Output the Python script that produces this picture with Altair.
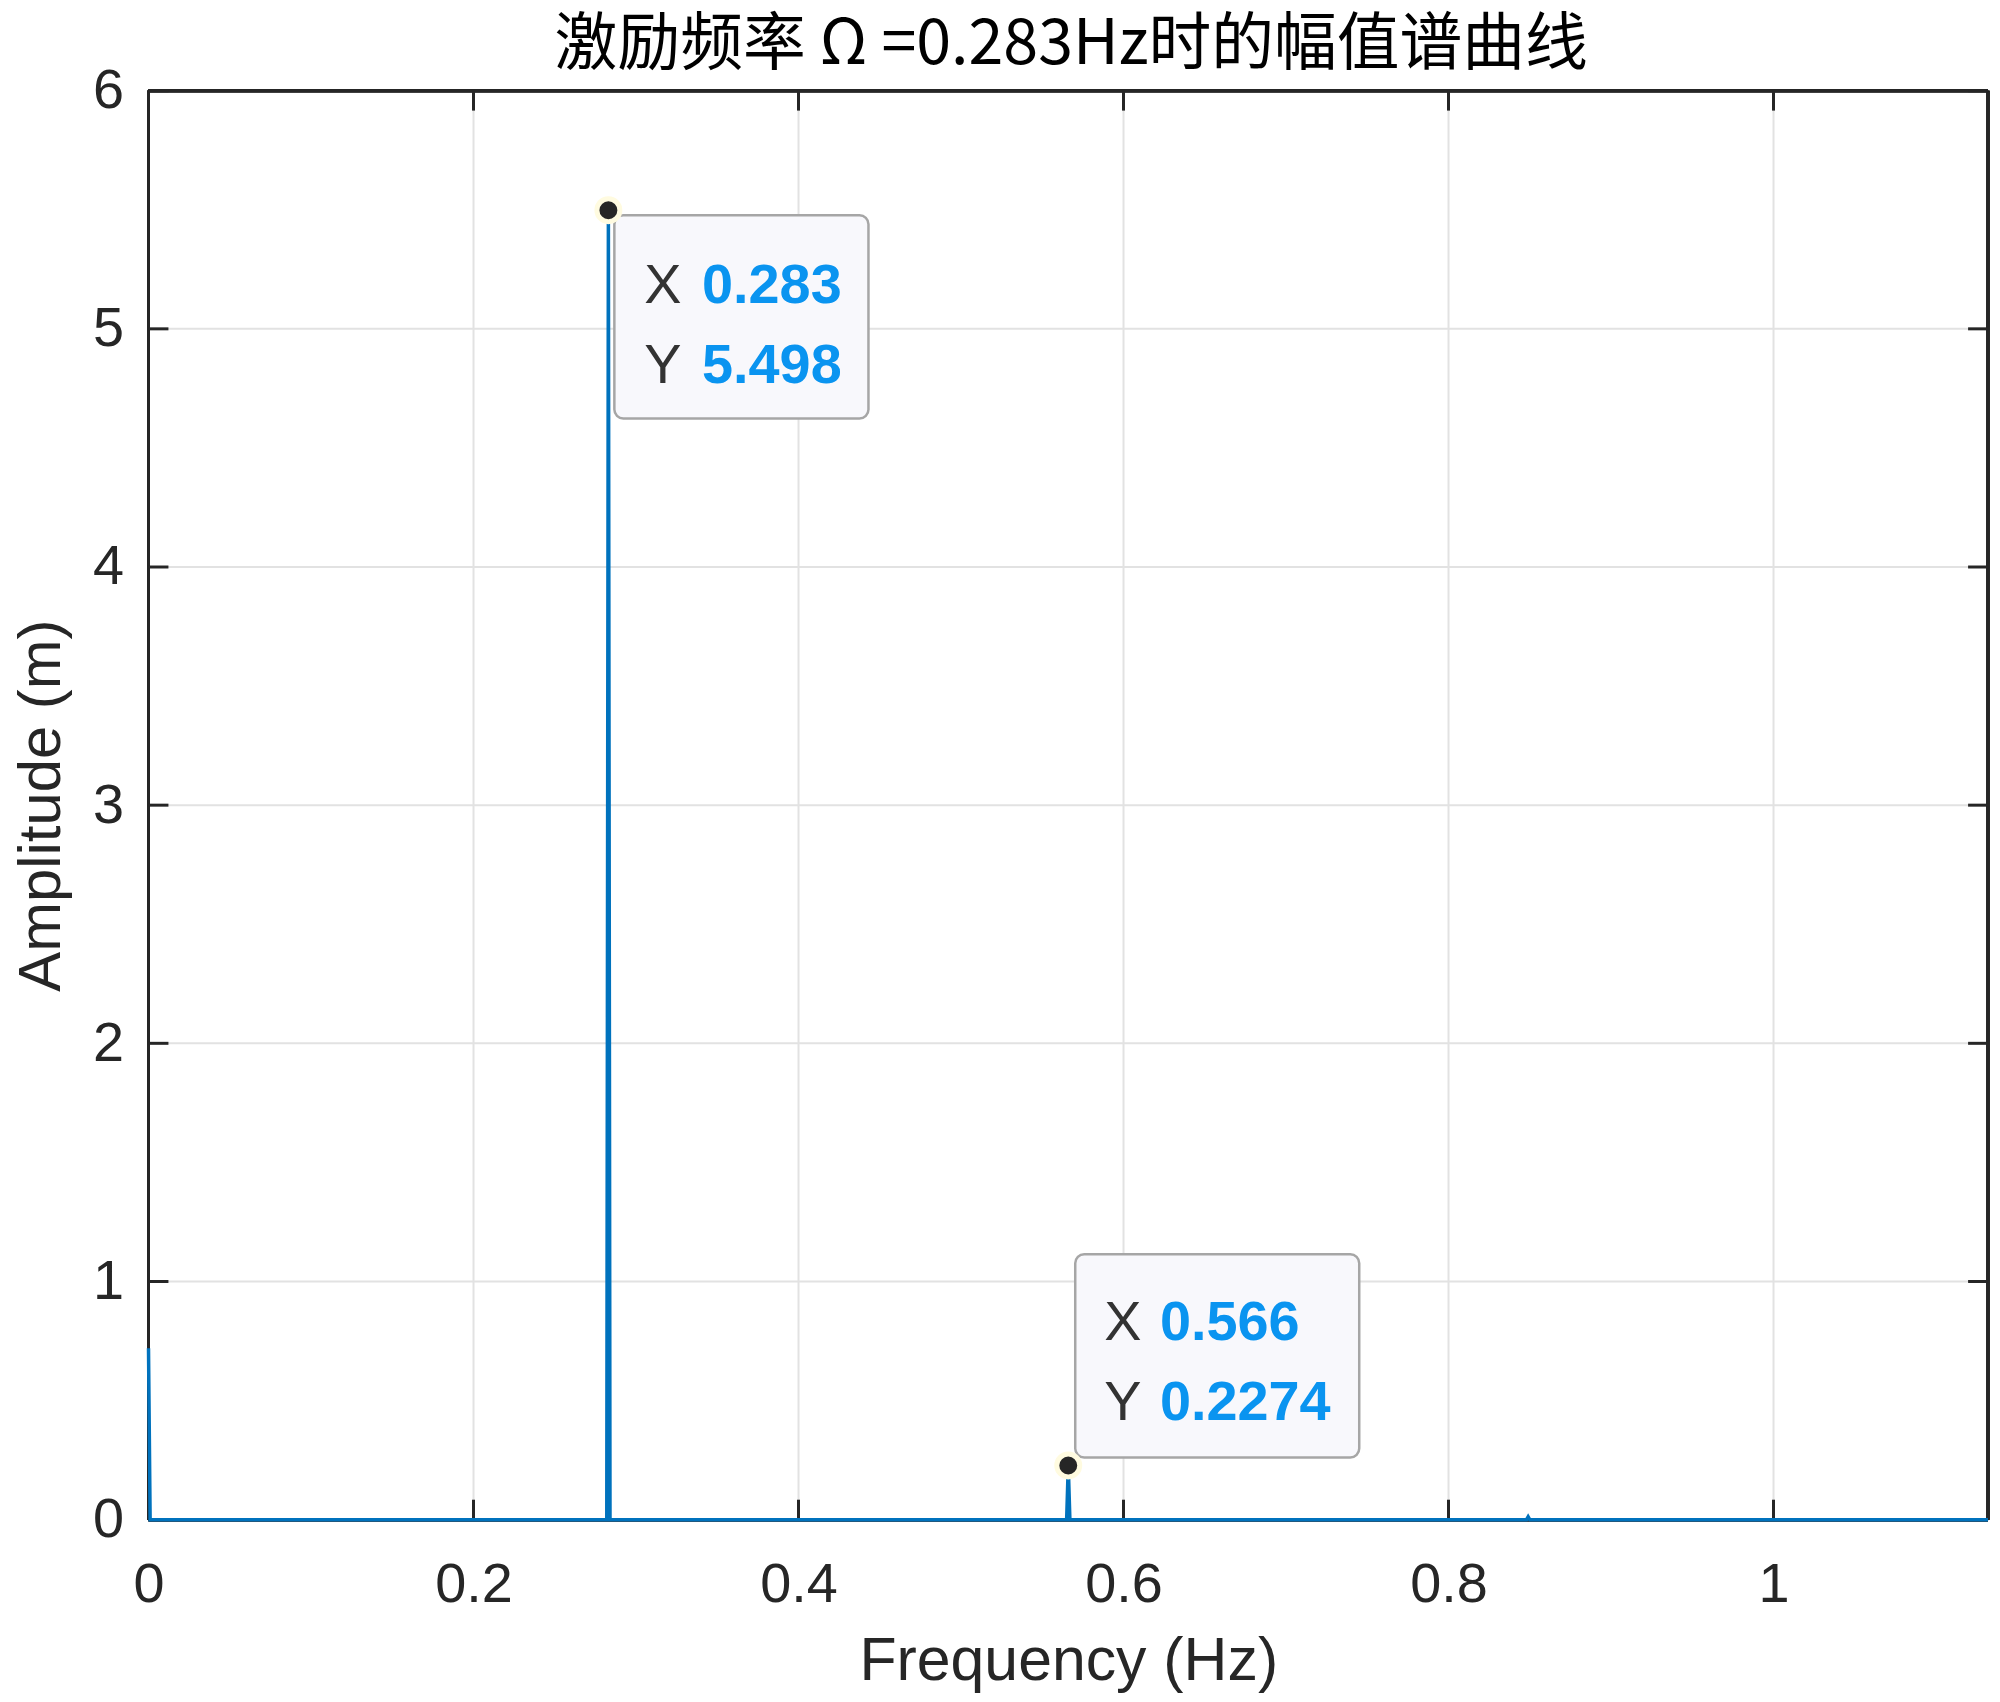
import altair as alt
import pandas as pd

# ---- data ----
freq = [0.0, 0.001, 0.282, 0.283, 0.284, 0.565, 0.566, 0.567, 0.848, 0.849, 0.850, 1.132]
amp = [0.72, 0.0, 0.0, 5.498, 0.0, 0.0, 0.2274, 0.0, 0.0, 0.012, 0.0, 0.0]

x_ticks = [0, 0.2, 0.4, 0.6, 0.8, 1.0]
y_ticks = [0, 1, 2, 3, 4, 5, 6]
x_max = 1.132
y_max = 6

tip_freq = [0.283, 0.566]
tip_amp = [5.498, 0.2274]
tip_xtext = ["0.283", "0.566"]
tip_ytext = ["5.498", "0.2274"]

title_text = "激励频率 Ω =0.283Hz时的幅值谱曲线"
x_title = "Frequency (Hz)"
y_title = "Amplitude (m)"

W, H = 1846, 1434
FRAME = "#262626"
GRID = "#E2E2E2"
LINE = "#0072BD"
TIPBLUE = "#0A94F0"
FONT = "Liberation Sans"

line_df = pd.DataFrame({"f": freq, "a": amp})
xt_df = pd.DataFrame({"v": x_ticks})
yt_df = pd.DataFrame({"v": y_ticks})
tips_df = pd.DataFrame({"f": tip_freq, "a": tip_amp, "xs": tip_xtext, "ys": tip_ytext,
                        "i": list(range(len(tip_freq)))})
title_df = pd.DataFrame({"t": [title_text]})

xs = alt.Scale(domain=[0, x_max], nice=False, zero=False)
ys = alt.Scale(domain=[0, y_max], nice=False)

x_axis = alt.Axis(values=x_ticks, format="~g", grid=False, ticks=False, domain=False,
                  labelFont=FONT, labelFontSize=56, labelColor=FRAME, labelPadding=38,
                  labelFlush=False, labelOverlap=False,
                  title=x_title, titleFont=FONT, titleFontSize=61, titleFontWeight="normal",
                  titleColor=FRAME, titlePadding=19)
y_axis = alt.Axis(values=y_ticks, format="~g", grid=False, ticks=False, domain=False,
                  labelFont=FONT, labelFontSize=56, labelColor=FRAME, labelPadding=25,
                  labelFlush=False, labelOverlap=False,
                  title=y_title, titleFont=FONT, titleFontSize=60, titleFontWeight="normal",
                  titleColor=FRAME, titlePadding=20)

# grid lines
gx = alt.Chart(xt_df).transform_filter("datum.v > 0").mark_rule(color=GRID, strokeWidth=2).encode(
    x=alt.X("v:Q", scale=xs, axis=x_axis))
gy = alt.Chart(yt_df).transform_filter("datum.v > 0 && datum.v < 6").mark_rule(color=GRID, strokeWidth=2).encode(
    y=alt.Y("v:Q", scale=ys, axis=y_axis))

# frame
frame_l = alt.Chart(xt_df).mark_rule(color=FRAME, strokeWidth=3).encode(x=alt.datum(0))
frame_r = alt.Chart(xt_df).mark_rule(color=FRAME, strokeWidth=3).encode(x=alt.datum(x_max))
frame_t = alt.Chart(yt_df).mark_rule(color=FRAME, strokeWidth=3).encode(y=alt.datum(y_max))
frame_b = alt.Chart(yt_df).mark_rule(color=FRAME, strokeWidth=3).encode(y=alt.datum(0))

# inward ticks on all four sides
TL = 20
tx_b = alt.Chart(xt_df).mark_rule(color=FRAME, strokeWidth=3).encode(
    x="v:Q", y=alt.value(H), y2=alt.value(H - TL))
tx_t = alt.Chart(xt_df).mark_rule(color=FRAME, strokeWidth=3).encode(
    x="v:Q", y=alt.value(0), y2=alt.value(TL))
ty_l = alt.Chart(yt_df).mark_rule(color=FRAME, strokeWidth=3).encode(
    y="v:Q", x=alt.value(0), x2=alt.value(TL))
ty_r = alt.Chart(yt_df).mark_rule(color=FRAME, strokeWidth=3).encode(
    y="v:Q", x=alt.value(W), x2=alt.value(W - TL))

# spectrum line
spec = alt.Chart(line_df).mark_line(color=LINE, strokeWidth=3.5, strokeJoin="miter").encode(
    x="f:Q", y="a:Q", order="f:Q")


def tip_layers(idx, bx0, bx1, by0, by1, tdx, vdx, row1, row2):
    base = alt.Chart(tips_df).transform_filter(f"datum.i == {idx}")
    box = base.mark_rect(fill="#F8F8FC", stroke="#A6A6A6", strokeWidth=2.5, cornerRadius=9,
                         xOffset=bx0, x2Offset=bx1, yOffset=by0, y2Offset=by1).encode(
        x="f:Q", x2="f:Q", y="a:Q", y2="a:Q")
    lx = base.mark_text(text="X", font=FONT, fontSize=56, color="#333333", align="left",
                        baseline="alphabetic", dx=tdx, dy=row1).encode(x="f:Q", y="a:Q")
    ly = base.mark_text(text="Y", font=FONT, fontSize=56, color="#333333", align="left",
                        baseline="alphabetic", dx=tdx, dy=row2).encode(x="f:Q", y="a:Q")
    vx = base.mark_text(font=FONT, fontSize=56, fontWeight="bold", color=TIPBLUE, align="left",
                        baseline="alphabetic", dx=vdx, dy=row1).encode(x="f:Q", y="a:Q", text="xs:N")
    vy = base.mark_text(font=FONT, fontSize=56, fontWeight="bold", color=TIPBLUE, align="left",
                        baseline="alphabetic", dx=vdx, dy=row2).encode(x="f:Q", y="a:Q", text="ys:N")
    return [box, lx, ly, vx, vy]


tips = tip_layers(0, 6, 261, 5, 209, 36, 94, 93, 173) + \
       tip_layers(1, 7, 292, -212, -8, 36, 92, -126, -46)

dots = alt.Chart(tips_df).mark_point(filled=True, fill="#262626", stroke="#FFFBE0", strokeWidth=5,
                                     opacity=1, size=530, shape="circle").encode(x="f:Q", y="a:Q")

title = alt.Chart(title_df).mark_text(font="Noto Sans CJK SC", fontSize=63, color="#000000",
                                      align="center", baseline="alphabetic").encode(
    text="t:N", x=alt.value(W / 2 + 3), y=alt.value(-27))

chart = alt.layer(
    gx, gy, frame_l, frame_r, frame_t, frame_b, tx_b, tx_t, ty_l, ty_r, spec, *tips, dots, title
).properties(
    width=W, height=H,
    autosize=alt.AutoSizeParams(type="none"),
    padding={"left": 141, "top": 80, "right": 4, "bottom": 172},
    background="white",
).configure_view(stroke=None)

chart.save("out.html", embed_options={"renderer": "svg", "actions": False})
